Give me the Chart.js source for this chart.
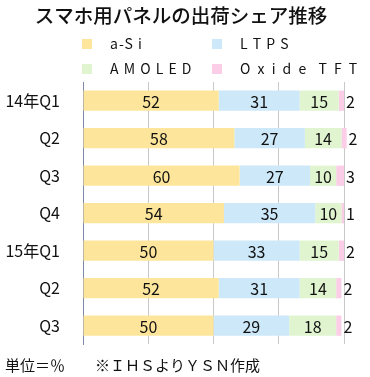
<!DOCTYPE html>
<html>
<head>
<meta charset="utf-8">
<script src="https://cdn.jsdelivr.net/npm/chart.js@4"></script>
<style>
  html, body { margin: 0; padding: 0; background: #fff; }
  #wrap { width: 370px; height: 377px; }
</style>
</head>
<body>
<div id="wrap"><canvas id="myChart" width="370" height="377"></canvas></div>
<script>
var quarters = ["14年Q1", "Q2", "Q3", "Q4", "15年Q1", "Q2", "Q3"];
var seriesNames = ["a-Si", "LTPS", "AMOLED", "Oxide TFT"];
var aSi = [52, 58, 60, 54, 50, 52, 50];
var ltps = [31, 27, 27, 35, 33, 31, 29];
var amoled = [15, 14, 10, 10, 15, 14, 18];
var oxide = [2, 2, 3, 1, 2, 2, 2];
var barColors = ["#fde69b", "#cde8f8", "#e0f5cf", "#fbcde6"];
var legendText = ["a-S i", "L T P S", "A M O L E D", "O x i d e  T F T"];
var legendGap = ["1px", "1px", "1px", "2px"];

var FONT = '"Noto Sans CJK JP", "Noto Sans", sans-serif';

// title, legend, value labels and footnote
var extras = {
    id: "extras",
    afterDatasetsDraw: function (chart) {
        var ctx = chart.ctx;
        ctx.save();
        ctx.fillStyle = "#111";
        ctx.textBaseline = "middle";

        // title
        ctx.font = "500 19.5px " + FONT;
        ctx.textAlign = "center";
        ctx.fillText("スマホ用パネルの出荷シェア推移", 181, 16);

        // legend, two columns
        var pos = [[82, 44], [212, 44], [82, 69], [212, 69]];
        ctx.font = "14px " + FONT;
        ctx.textAlign = "left";
        for (var i = 0; i < 4; i++) {
            ctx.fillStyle = barColors[i];
            ctx.fillRect(pos[i][0], pos[i][1] - 5, 10, 10);
            ctx.fillStyle = "#111";
            ctx.letterSpacing = legendGap[i];
            ctx.fillText(legendText[i], pos[i][0] + 28, pos[i][1]);
        }
        ctx.letterSpacing = "0px";

        // value labels
        ctx.font = "16px " + FONT;
        chart.data.datasets.forEach(function (ds, di) {
            var meta = chart.getDatasetMeta(di);
            meta.data.forEach(function (bar, j) {
                var v = ds.data[j];
                if (di === 3) {
                    ctx.textAlign = "left";
                    ctx.fillText(v, bar.x + 2, bar.y + 1);
                } else {
                    ctx.textAlign = "center";
                    ctx.fillText(v, (bar.x + bar.base) / 2, bar.y + 1);
                }
            });
        });

        // footnote
        ctx.font = "15px " + FONT;
        ctx.textAlign = "left";
        ctx.fillText("単位＝％", 5, 365);
        ctx.fillText("※ＩＨＳよりＹＳＮ作成", 95, 365);
        ctx.restore();
    }
};

new Chart("myChart", {
    type: "bar",
    data: {
        labels: quarters,
        datasets: [
            {label: seriesNames[0], data: aSi, backgroundColor: barColors[0]},
            {label: seriesNames[1], data: ltps, backgroundColor: barColors[1]},
            {label: seriesNames[2], data: amoled, backgroundColor: barColors[2]},
            {label: seriesNames[3], data: oxide, backgroundColor: barColors[3]}
        ]
    },
    options: {
        indexAxis: "y",
        responsive: false,
        animation: false,
        devicePixelRatio: 1,
        layout: {padding: {top: 82, right: 26, bottom: 22, left: 0}},
        datasets: {bar: {categoryPercentage: 1, barPercentage: 0.54, clip: false}},
        plugins: {
            legend: {display: false},
            title: {display: false},
            tooltip: {enabled: false}
        },
        scales: {
            x: {
                stacked: true,
                min: 0,
                max: 100,
                ticks: {display: false, stepSize: 25},
                grid: {color: "#c8c8c8", drawTicks: false},
                border: {display: false}
            },
            y: {
                stacked: true,
                afterFit: function (s) { s.width = 83; },
                ticks: {
                    padding: 23,
                    color: "#111",
                    font: {family: FONT, size: 16}
                },
                grid: {display: false, drawTicks: false},
                border: {display: true, color: "#7d8aa5", width: 1}
            }
        }
    },
    plugins: [extras]
});
</script>
</body>
</html>
